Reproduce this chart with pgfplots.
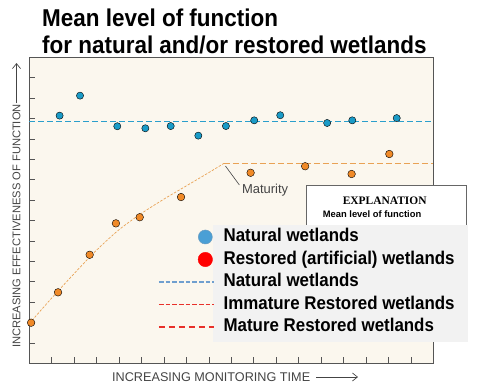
\documentclass[border=0pt]{standalone}
\usepackage{pgfplots}
\pgfplotsset{compat=1.18}
\usetikzlibrary{arrows.meta}
\usepackage{fontspec}
\setmainfont{Liberation Sans}
\newfontfamily\serifb{Liberation Serif}
\definecolor{cream}{HTML}{FBF7EE}
\definecolor{bluept}{HTML}{1A9BC7}
\definecolor{orangept}{HTML}{F08A28}
\definecolor{bluedash}{HTML}{2A9FCC}
\definecolor{orangeline}{HTML}{E9A255}
\definecolor{axisgray}{HTML}{555555}
\definecolor{labelgray}{HTML}{444444}
\definecolor{legendgray}{HTML}{F2F2F2}
\definecolor{legblue}{HTML}{4A9FD5}
\definecolor{legblueedge}{HTML}{6A9CC0}
\definecolor{legred}{HTML}{FF0000}
\definecolor{legdashblue}{HTML}{6F9FCF}
\definecolor{legdashred}{HTML}{E8302A}
\definecolor{boxgray}{HTML}{666666}
\newcommand{\ttlx}[1]{\scalebox{0.924}[1]{\bfseries #1}}
\newcommand{\lgx}[1]{\scalebox{0.917}[1]{\bfseries #1}}
\begin{document}
\begin{tikzpicture}[x=1bp,y=1bp]
\useasboundingbox (0,0) rectangle (483,388);
\begin{axis}[at={(29.3bp,24.7bp)}, anchor=south west, scale only axis,
  width=404bp, height=306bp, xmin=0, xmax=18, ymin=0, ymax=15,
  xtick={1,...,17}, ytick={1,...,14}, xticklabels={}, yticklabels={},
  tick align=inside, major tick length=6bp, xtick pos=bottom, ytick pos=left,
  axis line style={draw=axisgray, line width=0.8pt},
  tick style={draw=axisgray, line width=0.6pt},
  axis background/.style={fill=cream}, clip=false]
\addplot[draw=bluedash, line width=1.1pt, dash pattern=on 6bp off 3bp] coordinates {(0,11.85) (18,11.85)};
\addplot[draw=orangeline, line width=0.7pt, dash pattern=on 2.5bp off 1.5bp, smooth] coordinates {
(0,1.95) (1,3.2) (2,4.4) (3,5.55) (4,6.55) (5,7.35) (6,8.05) (7,8.7) (8,9.35) (8.67,9.8)};
\addplot[draw=orangeline, line width=1pt, dash pattern=on 6bp off 3bp] coordinates {(8.67,9.8) (18,9.8)};
\addplot[only marks, mark=*, mark size=3.6bp, mark options={draw=none, fill=bluept}] coordinates {
(1.35,12.14) (2.26,13.12) (3.92,11.62) (5.17,11.52) (6.30,11.63) (7.53,11.16) (8.76,11.63)
(10.02,11.91) (11.18,12.16) (13.27,11.78) (14.39,11.91) (16.37,12.02)};
\addplot[only marks, mark=*, mark size=3.8bp, mark options={draw=none, fill=orangept}] coordinates {
(0.08,1.99) (1.28,3.48) (2.69,5.32) (3.86,6.86) (4.92,7.16) (6.76,8.15)
(9.86,9.34) (12.29,9.66) (14.36,9.28) (16.04,10.26)};
\draw[labelgray, line width=0.6pt] (axis cs:8.74,9.67) -- (axis cs:9.36,8.74);
\node[anchor=west, inner sep=0pt, font=\fontsize{13}{15}\selectfont, text=labelgray] at (axis cs:9.47,8.5) {Maturity};
\end{axis}
% titles
\node[anchor=base west, inner sep=0pt, font=\fontsize{24.4}{28}\selectfont] at (42,362) {\ttlx{Mean level of function}};
\node[anchor=base west, inner sep=0pt, font=\fontsize{24.4}{28}\selectfont] at (42,334.7) {\ttlx{for natural and/or restored wetlands}};
% axis labels
\node[anchor=west, inner sep=0pt, font=\fontsize{12.7}{14}\selectfont, text=labelgray] at (112,11) {INCREASING MONITORING TIME};
\draw[labelgray, line width=0.7pt, -{Straight Barb[length=5bp,width=8bp]}] (316,11) -- (358,11);
\node[anchor=west, rotate=90, inner sep=0pt, font=\fontsize{11.2}{13}\selectfont, text=labelgray] at (16.5,40) {INCREASING EFFECTIVENESS OF FUNCTION};
\draw[labelgray, line width=0.7pt, -{Straight Barb[length=5bp,width=8bp]}] (16.5,285) -- (16.5,325);
% explanation box
\draw[draw=boxgray, line width=0.8pt, fill=white] (306,60) rectangle (466.7,202.3);
\node[inner sep=0pt, font=\serifb\bfseries\fontsize{11.5}{13}\selectfont] at (384.7,187) {EXPLANATION};
\node[anchor=west, inner sep=0pt, font=\bfseries\fontsize{9.4}{11}\selectfont] at (322.7,174.3) {Mean level of function};
% overlay legend background
\fill[legendgray] (213,46) rectangle (468,163);
\begin{axis}[at={(29.3bp,24.7bp)}, anchor=south west, scale only axis,
  width=404bp, height=306bp, xmin=0, xmax=1, ymin=0, ymax=1, hide axis,
  legend style={at={(0.3186,0.4422)}, anchor=north west, draw=none, fill=none,
    font=\fontsize{18.5}{22}\selectfont, inner sep=0pt, outer sep=0pt,
    row sep=4.5bp, column sep=9bp,
    nodes={inner sep=0pt, text height=14bp, text depth=4bp}},
  legend cell align=left]
\addlegendimage{legend image code/.code={\path[draw=none] (0,0) -- (55bp,0); \filldraw[draw=legblueedge, fill=legblue, line width=0.5pt] (46.5bp,0) circle (7bp);}}
\addlegendentry{\lgx{Natural wetlands}}
\addlegendimage{legend image code/.code={\path[draw=none] (0,0) -- (55bp,0); \fill[legred] (46.5bp,0) circle (7.2bp);}}
\addlegendentry{\lgx{Restored (artificial) wetlands}}
\addlegendimage{legend image code/.code={\draw[legdashblue, line width=1.6pt, dash pattern=on 4.7bp off 2bp] (0,0) -- (55bp,0);}}
\addlegendentry{\lgx{Natural wetlands}}
\addlegendimage{legend image code/.code={\draw[legdashred, line width=1.6pt, dash pattern=on 4.7bp off 2bp] (0,0) -- (55bp,0);}}
\addlegendentry{\lgx{Immature Restored wetlands}}
\addlegendimage{legend image code/.code={\draw[legdashred, line width=1.6pt, dash pattern=on 6bp off 4bp] (0,0) -- (55bp,0);}}
\addlegendentry{\lgx{Mature Restored wetlands}}
\end{axis}
\end{tikzpicture}
\end{document}
